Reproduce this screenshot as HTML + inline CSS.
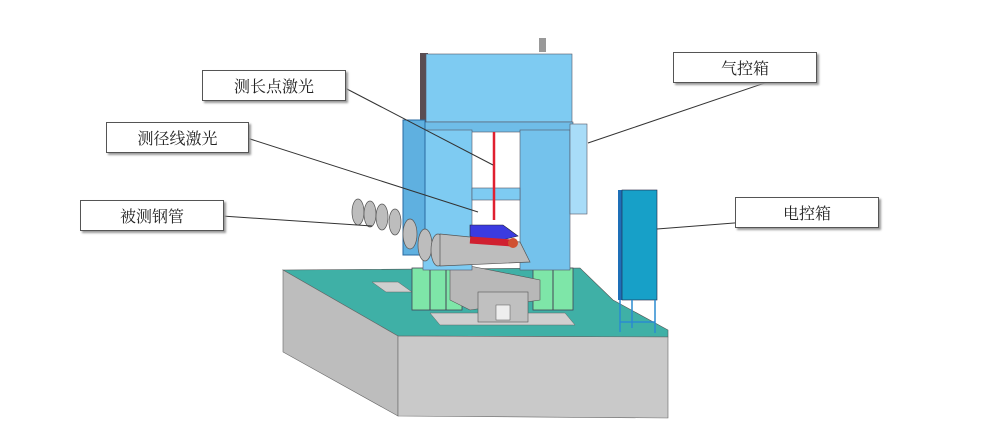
<!DOCTYPE html>
<html><head><meta charset="utf-8"><style>
html,body{margin:0;padding:0;background:#fff;}
.lbl{position:absolute;background:#fff;border:1px solid #555;box-shadow:2px 2px 2px #999;font-family:"Liberation Serif","Noto Serif CJK SC",serif;font-size:16px;color:#222;display:flex;align-items:center;justify-content:center;}
</style></head><body>
<div style="position:relative;width:1000px;height:447px;overflow:hidden">
<svg width="1000" height="447" style="position:absolute;left:0;top:0">
<polygon points="283,270 398,336 668,337 668,330 613,300 580,268" fill="#3fb0a6" stroke="#555" stroke-width="0.6"/>
<polygon points="283,270 398,336 398,416 283,352" fill="#bdbdbd" stroke="#666" stroke-width="0.6"/>
<polygon points="398,336 668,337 668,418 398,416" fill="#c9c9c9" stroke="#666" stroke-width="0.6"/>
<polygon points="372,282 398,282 412,292 386,292" fill="#cfcfcf" stroke="#666" stroke-width="0.5"/>
<polygon points="430,313 565,313 575,325 440,325" fill="#cfcfcf" stroke="#666" stroke-width="0.5"/>
<rect x="412" y="268" width="50" height="42" fill="#7ee6a8" stroke="#445" stroke-width="0.8"/>
<rect x="533" y="268" width="40" height="42" fill="#7ee6a8" stroke="#445" stroke-width="0.8"/>
<line x1="430" y1="270" x2="430" y2="310" stroke="#445"/><line x1="446" y1="270" x2="446" y2="310" stroke="#445"/>
<line x1="553" y1="270" x2="553" y2="310" stroke="#445"/>
<polygon points="450,262 540,280 540,300 470,310 450,300" fill="#b8b8b8" stroke="#555" stroke-width="0.6"/>
<rect x="478" y="292" width="50" height="30" fill="#c0c0c0" stroke="#555" stroke-width="0.6"/>
<rect x="496" y="305" width="14" height="15" fill="#eee" stroke="#555" stroke-width="0.5"/>
<rect x="420" y="53" width="8" height="75" fill="#5a4d52"/>
<rect x="426" y="54" width="146" height="68" fill="#7ecbf2" stroke="#556" stroke-width="0.6"/>
<rect x="423" y="122" width="150" height="10" fill="#6fbde8" stroke="#556" stroke-width="0.6"/>
<rect x="423" y="130" width="49" height="140" fill="#7ecbf2" stroke="#556" stroke-width="0.6"/>
<rect x="520" y="130" width="50" height="140" fill="#74c2ec" stroke="#556" stroke-width="0.6"/>
<rect x="472" y="188" width="48" height="12" fill="#7ecbf2" stroke="#556" stroke-width="0.6"/>
<rect x="403" y="120" width="22" height="135" fill="#5fb0e0" stroke="#2a6aa0" stroke-width="1"/>
<rect x="570" y="124" width="17" height="90" fill="#a8dcf8" stroke="#556" stroke-width="0.6"/>
<rect x="539" y="38" width="7" height="14" fill="#999"/>
<line x1="494" y1="132" x2="494" y2="220" stroke="#e02030" stroke-width="2.5"/>
<polygon points="470,225 503,225 518,236 490,243 470,236" fill="#3b3be0" stroke="#223" stroke-width="0.6"/>
<g fill="#bdbdbd" stroke="#555" stroke-width="0.7">
<ellipse cx="358" cy="212" rx="6" ry="13"/><ellipse cx="370" cy="214" rx="6" ry="13"/><ellipse cx="382" cy="217" rx="6" ry="13"/>
<ellipse cx="395" cy="222" rx="6" ry="13"/><ellipse cx="410" cy="234" rx="7" ry="15"/><ellipse cx="425" cy="245" rx="7" ry="16"/>
<ellipse cx="438" cy="250" rx="7" ry="16"/>
<polygon points="440,234 520,242 530,262 440,266"/>
</g>
<line x1="470" y1="240" x2="512" y2="243" stroke="#d02030" stroke-width="7"/>
<circle cx="513" cy="243" r="5" fill="#d05030"/>
<rect x="618" y="190" width="5" height="110" fill="#1d6fb8"/>
<rect x="622" y="190" width="35" height="110" fill="#17a0c8" stroke="#224" stroke-width="0.6"/>
<g stroke="#2a8ad0" stroke-width="1.5"><line x1="620" y1="300" x2="620" y2="332"/><line x1="655" y1="300" x2="655" y2="333"/><line x1="632" y1="300" x2="632" y2="328"/><line x1="620" y1="322" x2="655" y2="322"/></g>
<g stroke="#333" stroke-width="1">
<line x1="345" y1="88" x2="493" y2="165"/>
<line x1="247" y1="138" x2="478" y2="212"/>
<line x1="222" y1="216" x2="372" y2="226"/>
<line x1="815" y1="66" x2="588" y2="143"/>
<line x1="877" y1="212" x2="657" y2="229"/>
</g>
</svg>
<div class="lbl" style="left:202px;top:70px;width:142px;height:29px">测长点激光</div>
<div class="lbl" style="left:106px;top:122px;width:141px;height:29px">测径线激光</div>
<div class="lbl" style="left:80px;top:200px;width:142px;height:29px">被测钢管</div>
<div class="lbl" style="left:673px;top:52px;width:142px;height:29px">气控箱</div>
<div class="lbl" style="left:735px;top:197px;width:142px;height:29px">电控箱</div>
</div>
</body></html>
